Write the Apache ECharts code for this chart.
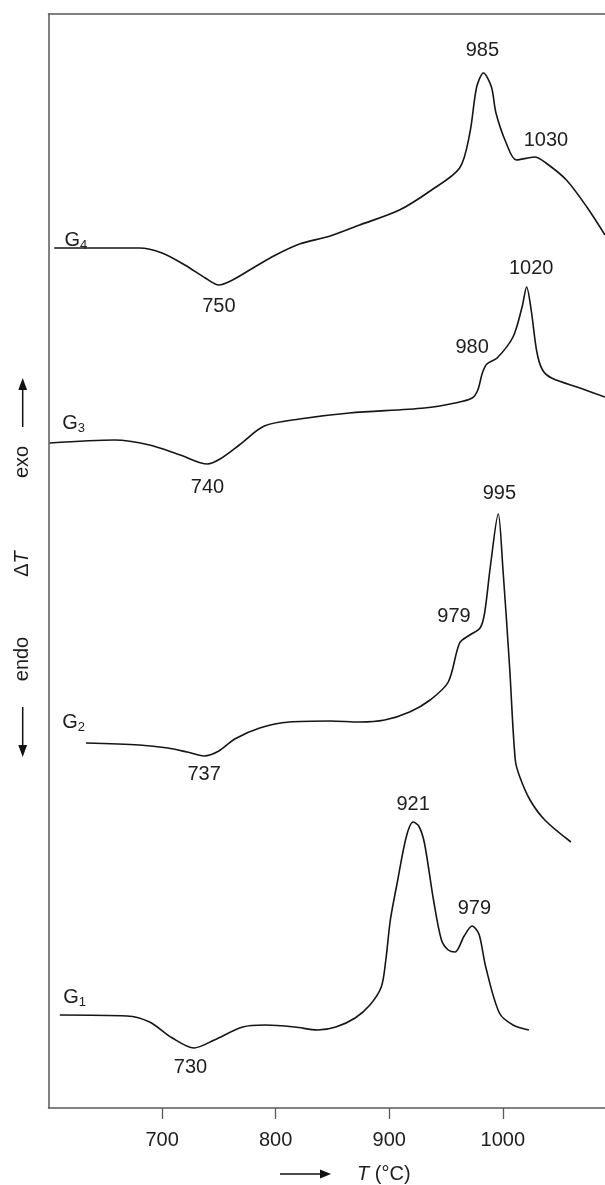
<!DOCTYPE html>
<html>
<head>
<meta charset="utf-8">
<script src="https://cdn.jsdelivr.net/npm/echarts@6/dist/echarts.min.js"></script>
<style>
html,body{margin:0;padding:0;background:#fff;}
#c{width:605px;height:1185px;}
</style>
</head>
<body>
<div id="c"></div>
<script>
// Temperature ticks (°C)
const T_TICKS = [700, 800, 900, 1000];

// DTA curves: [T (°C), ΔT (arbitrary units, offset per sample)]
const g1 = [[610,93],[669,92],[689,86],[709,70],[728,60],[746,68],[771,81],[791,83],[817,81],[837,78],[853,81],[870,90],[883,103],[893,121],[897,148],[901,188],[907,225],[915,271],[921,286],[926,282],[931,265],[939,208],[946,168],[952,158],[958,156],[966,172],[973,182],[979,174],[985,141],[997,95],[1009,83],[1023,78]];
const g2 = [[633,365],[680,363],[705,360],[722,356],[737,352],[750,357],[764,369],[786,380],[812,386],[848,387],[874,386],[896,388],[918,396],[936,408],[952,426],[962,465],[971,473],[980,480],[984,495],[989,541],[996,594],[1000,541],[1006,441],[1011,348],[1015,331],[1024,308],[1037,288],[1060,266]];
const g3 = [[601,665],[658,668],[689,663],[716,653],[740,644],[751,649],[768,663],[790,682],[821,689],[865,695],[931,700],[958,705],[973,710],[978,718],[982,735],[986,744],[995,750],[1009,771],[1017,801],[1021,821],[1025,798],[1030,756],[1035,738],[1043,730],[1068,720],[1090,711]];
const g4 = [[605,860],[680,860],[700,855],[720,843],[738,830],[750,823],[762,828],[780,840],[800,853],[821,864],[848,872],[874,883],[909,898],[936,917],[962,940],[971,975],[977,1021],[983,1035],[990,1021],[994,995],[1003,965],[1012,948],[1028,951],[1038,945],[1056,928],[1074,901],[1090,873]];

// Peak labels: [T, ΔT, text]
const peakLabels = [
  [982,1058,'985'],[1038,968,'1030'],[750,802,'750'],
  [1025,840,'1020'],[973,761,'980'],[740,621,'740'],
  [997,615,'995'],[957,492,'979'],[737,334,'737'],
  [921,304,'921'],[975,200,'979'],[725,41,'730']
];
// Curve names: [T, ΔT, sample index]
const curveNames = [[614,868,'4'],[612,685,'3'],[612,386,'2'],[613,111,'1']];

const FONT = 'Liberation Sans, Arial, sans-serif';
const TXT = '#1e1e1e';
const AX = '#595959';

const chart = echarts.init(document.getElementById('c'), null, {renderer:'canvas'});

function lineSeries(name, data){
  return {
    name, type:'line', data, showSymbol:false, smooth:0.3,
    lineStyle:{color:'#151515', width:1.6}, silent:true, z:3
  };
}

const option = {
  animation:false,
  backgroundColor:'#fff',
  grid:{left:48.5, right:0, top:14, bottom:77, outerBoundsMode:'none'},
  xAxis:[
    {type:'value', min:600, max:1090, position:'bottom',
     axisLine:{show:true, onZero:false, lineStyle:{color:AX, width:1.5}},
     axisTick:{show:true, customValues:T_TICKS, length:11, lineStyle:{color:AX, width:1.3}},
     axisLabel:{show:true, customValues:T_TICKS, formatter:v=>String(v), fontSize:20, color:TXT, fontFamily:FONT, margin:22},
     splitLine:{show:false}},
    {type:'value', min:600, max:1090, position:'top',
     axisLine:{show:true, onZero:false, lineStyle:{color:AX, width:1.5}},
     axisTick:{show:false}, axisLabel:{show:false}, splitLine:{show:false}}
  ],
  yAxis:{type:'value', min:0, max:1094,
     axisLine:{show:true, onZero:false, lineStyle:{color:AX, width:1.5}},
     axisTick:{show:false}, axisLabel:{show:false}, splitLine:{show:false}},
  series:[
    lineSeries('G1', g1), lineSeries('G2', g2), lineSeries('G3', g3), lineSeries('G4', g4),
    {type:'scatter', data:peakLabels, symbolSize:0, silent:true, itemStyle:{opacity:1},
     label:{show:true, position:'inside', formatter:p=>p.data[2], fontSize:20, color:TXT, opacity:1, fontFamily:FONT}},
    {type:'scatter', data:curveNames, symbolSize:0, silent:true, itemStyle:{opacity:1},
     label:{show:true, position:'inside', align:'left', opacity:1, formatter:p=>'{g|G}{s|'+p.data[2]+'}',
       rich:{g:{fontSize:20, color:TXT, fontFamily:FONT}, s:{fontSize:13, color:TXT, fontFamily:FONT, padding:[10,0,0,0]}}}}
  ],
  graphic:[
    // x-axis title arrow
    {type:'line', shape:{x1:280, y1:1174, x2:322, y2:1174}, style:{stroke:'#111', lineWidth:1.5}},
    {type:'polygon', shape:{points:[[331,1174],[320,1169.5],[320,1178.5]]}, style:{fill:'#111'}},
    {type:'text', x:357, y:1174, style:{text:'{i|T} (°C)', rich:{i:{fontStyle:'italic', fontSize:20, fontFamily:FONT, fill:TXT}}, fontSize:20, fontFamily:FONT, fill:TXT, verticalAlign:'middle', align:'left'}},
    // y annotations
    {type:'text', x:22.7, y:462, rotation:Math.PI/2, style:{text:'exo', fontSize:20, fontFamily:FONT, fill:TXT, align:'center', verticalAlign:'middle'}},
    {type:'line', shape:{x1:22.7, y1:427, x2:22.7, y2:388}, style:{stroke:'#111', lineWidth:1.5}},
    {type:'polygon', shape:{points:[[22.7,378],[18.3,390],[27.1,390]]}, style:{fill:'#111'}},
    {type:'text', x:22.7, y:564, rotation:Math.PI/2, style:{text:'Δ{i|T}', rich:{i:{fontStyle:'italic', fontSize:20, fontFamily:FONT, fill:TXT}}, fontSize:20, fontFamily:FONT, fill:TXT, align:'center', verticalAlign:'middle'}},
    {type:'text', x:22.7, y:659, rotation:Math.PI/2, style:{text:'endo', fontSize:20, fontFamily:FONT, fill:TXT, align:'center', verticalAlign:'middle'}},
    {type:'line', shape:{x1:22.7, y1:707, x2:22.7, y2:746}, style:{stroke:'#111', lineWidth:1.5}},
    {type:'polygon', shape:{points:[[22.7,757],[18.3,745],[27.1,745]]}, style:{fill:'#111'}}
  ]
};
chart.setOption(option);
</script>
</body>
</html>
